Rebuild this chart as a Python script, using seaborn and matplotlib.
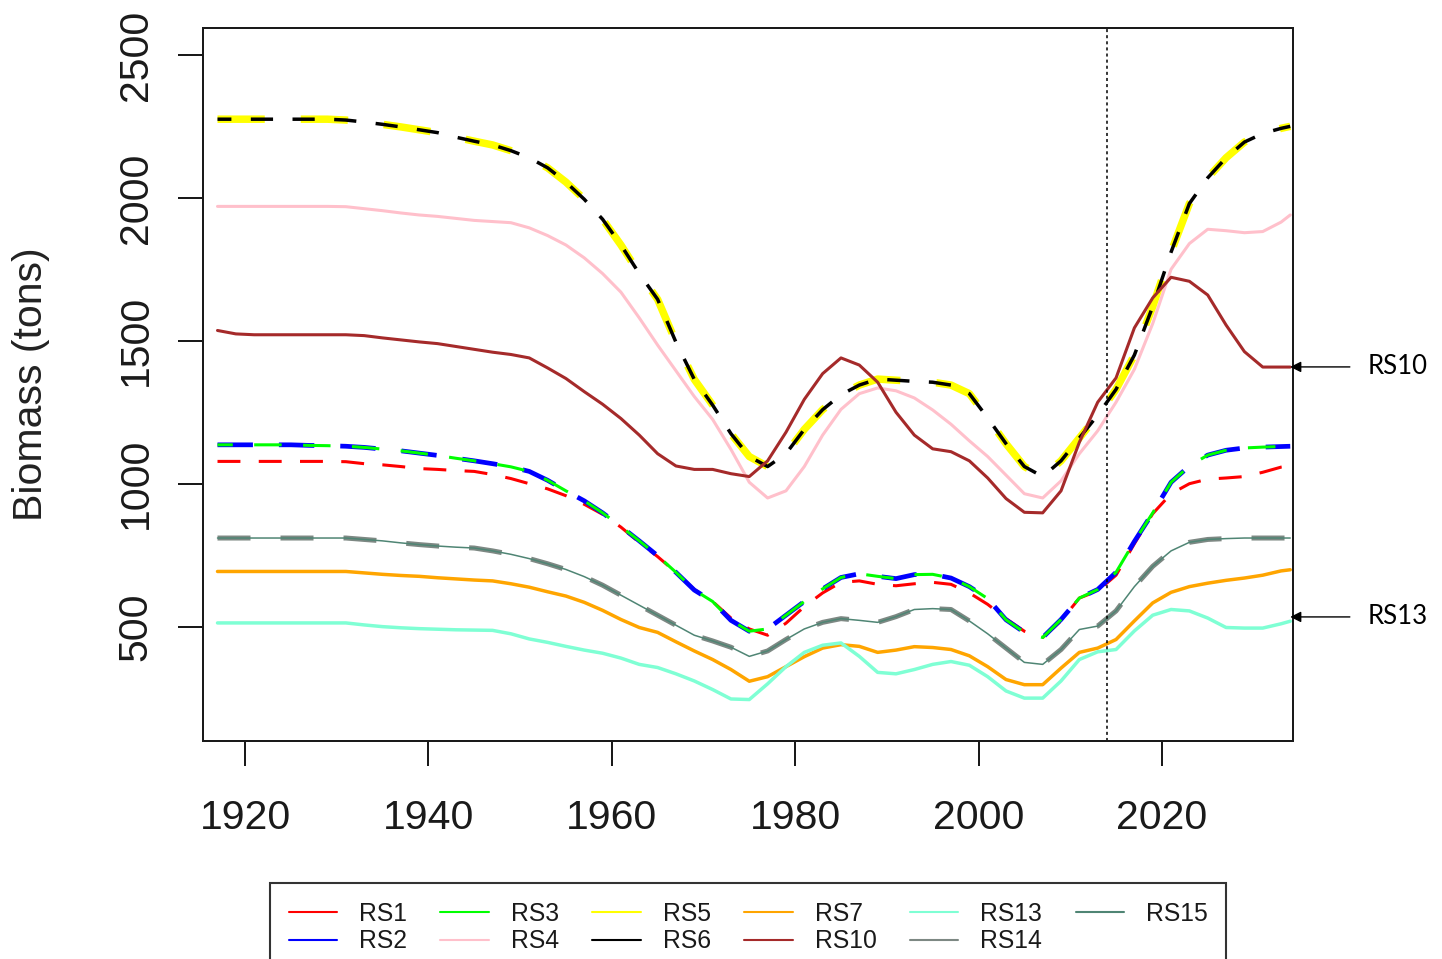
import matplotlib
matplotlib.use("Agg")
import matplotlib.pyplot as plt
from matplotlib.lines import Line2D
import seaborn as sns

# Sample years (odd years 1917-2033, plus the final projection year)
YEARS = [1917, 1919, 1921, 1923, 1925, 1927, 1929, 1931, 1933, 1935,
         1937, 1939, 1941, 1943, 1945, 1947, 1949, 1951, 1953, 1955,
         1957, 1959, 1961, 1963, 1965, 1967, 1969, 1971, 1973, 1975,
         1977, 1979, 1981, 1983, 1985, 1987, 1989, 1991, 1993, 1995,
         1997, 1999, 2001, 2003, 2005, 2007, 2009, 2011, 2013, 2015,
         2017, 2019, 2021, 2023, 2025, 2027, 2029, 2031, 2033, 2034]

# Biomass (tons) by scenario
RS1 = [1078, 1078, 1078, 1078, 1078, 1078, 1078, 1077, 1070, 1066,
       1060, 1053, 1050, 1046, 1043, 1032, 1018, 1000, 982, 958,
       928, 893, 848, 795, 745, 690, 630, 588, 530, 492,
       470, 512, 570, 618, 655, 660, 648, 643, 650, 655,
       648, 618, 578, 528, 484, 462, 520, 600, 625, 680,
       790, 895, 965, 1000, 1016, 1020, 1025, 1040, 1058, 1062]
RS2 = [1136, 1136, 1136, 1136, 1136, 1134, 1133, 1131, 1127, 1121,
       1115, 1107, 1099, 1089, 1080, 1070, 1059, 1043, 1012, 975,
       940, 898, 850, 800, 748, 690, 628, 588, 522, 484,
       492, 540, 588, 632, 672, 685, 676, 668, 682, 683,
       670, 640, 598, 524, 480, 462, 525, 600, 630, 690,
       798, 898, 1005, 1062, 1100, 1117, 1125, 1128, 1130, 1131]
RS3 = [1136, 1136, 1136, 1136, 1136, 1134, 1133, 1131, 1127, 1121,
       1115, 1107, 1099, 1089, 1080, 1070, 1059, 1043, 1012, 975,
       940, 898, 850, 800, 748, 690, 628, 588, 522, 484,
       492, 540, 588, 632, 672, 685, 676, 668, 682, 683,
       670, 640, 598, 524, 480, 462, 525, 600, 630, 690,
       798, 898, 1005, 1062, 1100, 1117, 1125, 1128, 1130, 1131]
RS4 = [1970, 1970, 1970, 1970, 1970, 1970, 1970, 1969, 1962, 1955,
       1947, 1940, 1935, 1928, 1921, 1917, 1913, 1895, 1868, 1835,
       1790, 1735, 1670, 1580, 1485, 1395, 1305, 1225, 1120, 1005,
       950, 975, 1060, 1170, 1260, 1315, 1335, 1325, 1300, 1258,
       1208, 1150, 1095, 1030, 965, 950, 1010, 1105, 1185, 1285,
       1400, 1560, 1750, 1840, 1890, 1885, 1878, 1882, 1915, 1940]
RS5 = [2275, 2275, 2275, 2275, 2275, 2275, 2275, 2272, 2265, 2257,
       2248, 2238, 2228, 2212, 2198, 2185, 2165, 2140, 2105, 2055,
       1995, 1925, 1835, 1735, 1645, 1495, 1365, 1275, 1175, 1095,
       1060, 1105, 1190, 1259, 1311, 1345, 1366, 1362, 1358, 1355,
       1345, 1315, 1230, 1140, 1060, 1025, 1080, 1160, 1240, 1330,
       1450, 1620, 1810, 1980, 2070, 2140, 2195, 2225, 2243, 2250]
RS6 = [2275, 2275, 2275, 2275, 2275, 2275, 2275, 2272, 2265, 2257,
       2248, 2238, 2228, 2212, 2198, 2185, 2165, 2140, 2105, 2055,
       1995, 1925, 1835, 1735, 1645, 1495, 1365, 1275, 1175, 1095,
       1060, 1105, 1190, 1259, 1311, 1345, 1366, 1362, 1358, 1355,
       1345, 1315, 1230, 1140, 1060, 1025, 1080, 1160, 1240, 1330,
       1450, 1620, 1810, 1980, 2070, 2140, 2195, 2225, 2243, 2250]
RS7 = [693, 693, 693, 693, 693, 693, 693, 693, 688, 683,
       679, 676, 671, 667, 663, 660, 650, 638, 622, 607,
       585, 557, 525, 497, 480, 447, 415, 385, 350, 309,
       325, 360, 395, 425, 437, 431, 410, 418, 430, 427,
       420, 398, 360, 315, 297, 297, 355, 410, 425, 455,
       520, 583, 620, 640, 652, 662, 670, 680, 695, 699]
RS10 = [1536, 1524, 1521, 1521, 1521, 1521, 1521, 1521, 1518, 1510,
        1503, 1496, 1490, 1480, 1470, 1460, 1452, 1440, 1405, 1368,
        1322, 1278, 1228, 1170, 1105, 1062, 1050, 1050, 1035, 1025,
        1080, 1180, 1295, 1385, 1440, 1415, 1355, 1250, 1170, 1122,
        1112, 1080, 1020, 948, 900, 898, 975, 1145, 1285, 1370,
        1545, 1650, 1722, 1708, 1660, 1555, 1462, 1408, 1408, 1408]
RS13 = [513, 513, 513, 513, 513, 513, 513, 513, 506, 500,
        496, 493, 491, 489, 488, 487, 475, 457, 445, 431,
        418, 407, 390, 368, 357, 335, 310, 280, 247, 245,
        300, 360, 410, 435, 443, 396, 340, 335, 350, 368,
        378, 365, 325, 275, 250, 250, 310, 385, 412, 420,
        485, 540, 560, 555, 530, 497, 495, 495, 510, 519]
RS14 = [810, 810, 810, 810, 810, 810, 810, 810, 805, 800,
        793, 787, 782, 778, 775, 765, 753, 738, 720, 700,
        675, 645, 610, 575, 540, 505, 470, 450, 428, 396,
        415, 455, 492, 515, 528, 522, 515, 535, 560, 563,
        560, 520, 475, 425, 375, 368, 420, 490, 502, 555,
        640, 711, 765, 795, 805, 808, 810, 810, 810, 810]
RS15 = [810, 810, 810, 810, 810, 810, 810, 810, 805, 800,
        793, 787, 782, 778, 775, 765, 753, 738, 720, 700,
        675, 645, 610, 575, 540, 505, 470, 450, 428, 396,
        415, 455, 492, 515, 528, 522, 515, 535, 560, 563,
        560, 520, 475, 425, 375, 368, 420, 490, 502, 555,
        640, 711, 765, 795, 805, 808, 810, 810, 810, 810]

SCENARIOS = ["RS1", "RS2", "RS3", "RS4", "RS5", "RS6", "RS7",
             "RS10", "RS13", "RS14", "RS15"]
VALUES = [RS1, RS2, RS3, RS4, RS5, RS6, RS7, RS10, RS13, RS14, RS15]
COLORS = ["#FF0000", "#0000FF", "#00FF00", "#FFC0CB", "#FFFF00", "#000000",
          "#FFA500", "#A52A2A", "#7FFFD4", "#7D8883", "#4F8574"]
WIDTHS = [2.2, 3.4, 2.2, 2.2, 5.4, 2.5, 2.5, 2.2, 2.5, 3.6, 1.1]
STYLES = [(0, (7.5, 6.0)), (0, (7.5, 5.5)), (4, (9.0, 7.0)), "-",
          (0, (6.3, 4.8)), (2.4, (6.4, 5.6)), "-", "-", "-",
          (0, (6.6, 6.0)), "-"]

X_TICKS = [1920, 1940, 1960, 1980, 2000, 2020]
Y_TICKS = [500, 1000, 1500, 2000, 2500]
CURRENT_YEAR = 2014

sns.set_theme(style="white")
plt.rcParams["font.family"] = ["Liberation Sans", "DejaVu Sans"]

fig = plt.figure(figsize=(14.42, 9.59), dpi=100)
ax = fig.add_axes([0.14098, 0.22732, 0.75569, 0.74348])

for name, vals, color, lw, ls in zip(SCENARIOS, VALUES, COLORS, WIDTHS, STYLES):
    sns.lineplot(x=YEARS, y=vals, ax=ax, color=color, linewidth=lw,
                 linestyle=ls, errorbar=None, legend=False)

# end of the historical period
ax.axvline(CURRENT_YEAR, color="black", linewidth=1.1, linestyle=(0, (2, 2)))

ax.set_xlim(1915.45, 2034.3)
ax.set_ylim(100, 2594)
ax.set_xticks(X_TICKS)
ax.set_yticks(Y_TICKS)
ax.set_xticklabels([str(t) for t in X_TICKS])
ax.set_yticklabels([str(t) for t in Y_TICKS])

ax.tick_params(axis="both", which="major", direction="out", length=18,
               width=1.44, color="#1a1a1a", labelsize=29.5,
               labelcolor="#1a1a1a", bottom=True, left=True)
ax.tick_params(axis="x", pad=24)
ax.tick_params(axis="y", pad=17)
plt.setp(ax.get_yticklabels(), rotation=90, va="center")

for spine in ax.spines.values():
    spine.set_visible(True)
    spine.set_color("#1a1a1a")
    spine.set_linewidth(1.44)

ax.set_xlabel("")
ax.set_ylabel("Biomass (tons)", fontsize=29.5, color="#222222")
ax.yaxis.set_label_coords(-0.1407, 0.5)

# callouts for two scenarios at the right edge
for label, yv in [("RS10", 1408.5), ("RS13", 534)]:
    ax.annotate("", xy=(2034.0, yv), xytext=(2040.5, yv),
                xycoords="data", textcoords="data", annotation_clip=False,
                arrowprops=dict(arrowstyle="-|>", color="black", lw=1.0,
                                mutation_scale=16, shrinkA=0, shrinkB=0))
    ax.text(2042.46, yv, label, fontsize=18.5, family=["Lato", "DejaVu Sans"],
            va="center", ha="left", color="black", clip_on=False)

handles = [Line2D([0], [0], color=c, linewidth=1.5) for c in COLORS]
leg = fig.legend(handles, SCENARIOS, loc="upper left",
                 bbox_to_anchor=(270 / 1442, 1 - 883 / 959),
                 bbox_transform=fig.transFigure, ncol=6, fontsize=17.8,
                 handlelength=1.95, handletextpad=0.9, columnspacing=1.35,
                 labelspacing=0.15, borderpad=0.75, borderaxespad=0,
                 frameon=True, fancybox=False, framealpha=1)
leg.get_frame().set_edgecolor("#333333")
leg.get_frame().set_linewidth(1.5)
for t in leg.get_texts():
    t.set_color("#1a1a1a")

fig.savefig("out.png", dpi=100)
